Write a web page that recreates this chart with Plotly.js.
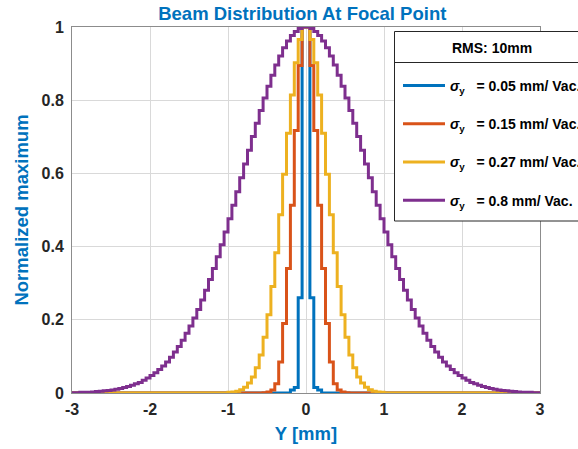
<!DOCTYPE html>
<html>
<head>
<meta charset="utf-8">
<script src="https://cdn.plot.ly/plotly-3.0.1.min.js"></script>
<style>html,body{margin:0;padding:0;background:#fff;}#chart{width:578px;height:449px;}</style>
</head>
<body>
<div id="chart"></div>
<script>
// Histogram bin width (mm) and series data
const binWidth = 0.05;

const legendTitle = 'RMS: 10mm';
const seriesNames = [
  '<i>σ</i><sub>y</sub>\u00a0\u00a0 = 0.05 mm/ Vac.',
  '<i>σ</i><sub>y</sub>\u00a0\u00a0 = 0.15 mm/ Vac.',
  '<i>σ</i><sub>y</sub>\u00a0\u00a0 = 0.27 mm/ Vac.',
  '<i>σ</i><sub>y</sub>\u00a0\u00a0 = 0.8 mm/ Vac.'
];

// Left edge of the first bin of each series (mm)
const blueStart = -0.2;
const redStart = -0.55;
const orangeStart = -1.0;
const purpleStart = -3.0;

const blueVals = [0.008, 0.015, 0.260, 1.000, 1.000, 0.260, 0.015, 0.008];

const redVals = [0.001, 0.003, 0.008, 0.025, 0.085, 0.190, 0.340, 0.513, 0.717, 0.895, 1.000,
                 1.000, 0.895, 0.717, 0.513, 0.340, 0.190, 0.085, 0.025, 0.008, 0.003, 0.001];

const orangeVals = [0.002, 0.003, 0.005, 0.009, 0.016, 0.027, 0.044, 0.069, 0.104, 0.152,
                    0.214, 0.291, 0.383, 0.487, 0.598, 0.710, 0.814, 0.902, 0.966, 1.000,
                    1.000, 0.966, 0.902, 0.814, 0.710, 0.598, 0.487, 0.383, 0.291, 0.214,
                    0.152, 0.104, 0.069, 0.044, 0.027, 0.016, 0.009, 0.005, 0.003, 0.002];

const purpleVals = [
  0.001, 0.001, 0.002, 0.002, 0.002, 0.003, 0.004, 0.005, 0.006, 0.007,
  0.008, 0.010, 0.012, 0.015, 0.018, 0.021, 0.025, 0.029, 0.035, 0.041,
  0.048, 0.055, 0.064, 0.074, 0.085, 0.098, 0.112, 0.127, 0.144, 0.163,
  0.183, 0.205, 0.228, 0.254, 0.281, 0.310, 0.340, 0.372, 0.405, 0.440,
  0.476, 0.513, 0.550, 0.588, 0.626, 0.663, 0.701, 0.737, 0.772, 0.806,
  0.838, 0.868, 0.896, 0.921, 0.943, 0.962, 0.977, 0.988, 0.996, 1.000,
  1.000, 0.996, 0.988, 0.977, 0.962, 0.943, 0.921, 0.896, 0.868, 0.838,
  0.806, 0.772, 0.737, 0.701, 0.663, 0.626, 0.588, 0.550, 0.513, 0.476,
  0.440, 0.405, 0.372, 0.340, 0.310, 0.281, 0.254, 0.228, 0.205, 0.183,
  0.163, 0.144, 0.127, 0.112, 0.098, 0.085, 0.074, 0.064, 0.055, 0.048,
  0.041, 0.035, 0.029, 0.025, 0.021, 0.018, 0.015, 0.012, 0.010, 0.008,
  0.007, 0.006, 0.005, 0.004, 0.003, 0.002, 0.002, 0.002, 0.001, 0.001
];

const xTicks = [-3, -2, -1, 0, 1, 2, 3];
const yTicks = [0, 0.2, 0.4, 0.6, 0.8, 1];

const colors = ['#0072BD', '#D95319', '#EDB120', '#7E2F8E'];
const xMin = -3, xMax = 3;

function stairs(start, vals) {
  const xs = [xMin], ys = [0];
  for (let i = 0; i < vals.length; i++) {
    xs.push(start + i * binWidth);
    ys.push(vals[i]);
  }
  xs.push(start + vals.length * binWidth); ys.push(0);
  xs.push(xMax); ys.push(0);
  return {xs, ys};
}

const all = [[blueStart, blueVals], [redStart, redVals], [orangeStart, orangeVals], [purpleStart, purpleVals]];
const traces = all.map((s, i) => {
  const st = stairs(s[0], s[1]);
  return {
    x: st.xs, y: st.ys, type: 'scatter', mode: 'lines',
    line: {shape: 'hv', color: colors[i], width: 3},
    name: seriesNames[i], legendgroup: 'g' + i
  };
});

const font = 'Liberation Sans, Arial, Helvetica, sans-serif';
const blue = '#0072BD';

// legend box geometry in paper coordinates
const L = 72, T = 27, W = 468, H = 366;
const px2x = p => (p - L) / W;
const py2y = p => (T + H - p) / H;

const layout = {
  width: 578, height: 449,
  margin: {l: 72, r: 38, t: 27, b: 56, autoexpand: false},
  paper_bgcolor: '#fff', plot_bgcolor: '#fff',
  font: {family: font, color: '#262626'},
  title: {text: '<b>Beam Distribution At Focal Point</b>', font: {size: 18.5, color: blue, family: font},
          x: 0.523, xanchor: 'center', y: 0.969, yanchor: 'middle'},
  xaxis: {
    range: [-3, 3], tickvals: xTicks, ticktext: xTicks.map(String),
    showgrid: true, gridcolor: '#d9d9d9', gridwidth: 1,
    showline: true, linecolor: '#8c8c8c', linewidth: 1, mirror: true,
    zeroline: false, ticks: '', tickfont: {size: 16, family: font, color: '#262626', weight: 'bold'},
    ticklabelstandoff: 2,
    title: {text: '<b>Y [mm]</b>', font: {size: 18.5, color: blue, family: font}, standoff: 9}
  },
  yaxis: {
    range: [0, 1], tickvals: yTicks, ticktext: yTicks.map(String),
    showgrid: true, gridcolor: '#d9d9d9', gridwidth: 1,
    showline: true, linecolor: '#8c8c8c', linewidth: 1, mirror: true,
    zeroline: false, ticks: '', tickfont: {size: 16, family: font, color: '#262626', weight: 'bold'},
    ticklabelstandoff: 4,
    title: {text: '<b>Normalized maximum</b>', font: {size: 18.5, color: blue, family: font}, standoff: 8}
  },
  showlegend: true,
  legend: {
    x: px2x(398), y: py2y(70), xanchor: 'left', yanchor: 'top',
    bgcolor: 'rgba(0,0,0,0)', borderwidth: 0,
    font: {size: 14, family: font, color: '#000', weight: 'bold'},
    itemwidth: 42, tracegroupgap: 17, traceorder: 'grouped'
  },
  annotations: [
    {text: '<b>' + legendTitle + '</b>', xref: 'paper', yref: 'paper',
     x: px2x(492), y: py2y(48), xanchor: 'center', yanchor: 'middle', showarrow: false,
     font: {size: 14, family: font, color: '#000'}}
  ],
  shapes: [
    {type: 'rect', xref: 'paper', yref: 'paper', layer: 'above',
     x0: px2x(394.5), x1: px2x(620), y0: py2y(221), y1: py2y(31.5),
     fillcolor: '#fff', line: {color: '#262626', width: 1}},
    {type: 'line', xref: 'paper', yref: 'paper', layer: 'above',
     x0: px2x(394.5), x1: px2x(620), y0: py2y(62.5), y1: py2y(62.5),
     line: {color: '#262626', width: 1}}
  ]
};

Plotly.newPlot('chart', traces, layout, {displayModeBar: false, staticPlot: true});
</script>
</body>
</html>
